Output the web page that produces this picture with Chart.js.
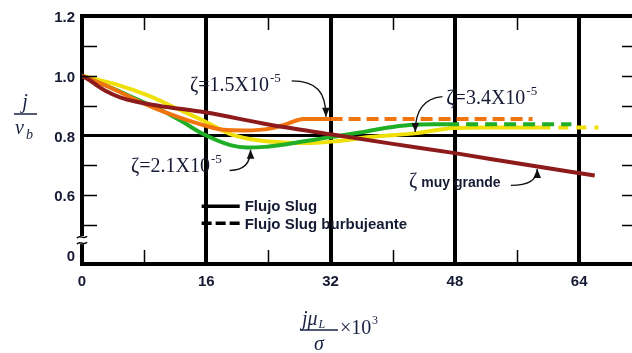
<!DOCTYPE html>
<html><head><meta charset="utf-8">
<script src="https://cdn.jsdelivr.net/npm/chart.js@4.4.1/dist/chart.umd.min.js"></script>
<style>html,body{margin:0;padding:0;background:#fff;overflow:hidden}#wrap{width:632px;height:353px}</style>
</head><body><div id="wrap"><canvas id="c" width="632" height="353"></canvas></div>
<script>
// ---- data ----
const xTickValues = [0,8,16,24,32,40,48,56,64];
const xTickLabels = ['0','','16','','32','','48','','64'];
const yTickValues = [0.4,0.5,0.6,0.7,0.8,0.9,1.0,1.1,1.2];
const yTickLabels = ['0','','0.6','','0.8','','1.0','','1.2'];
const xMinor = [8,24,40,56];
const yMinor = [0.5,0.6,0.7,0.9,1.0,1.1];

const muyGrandeX = [0,1,2,3,4.9,7,10,16,24,32,40,48,56,66];
const muyGrandeY = [1.0,0.985,0.966,0.95,0.928,0.913,0.899,0.877,0.837,0.804,0.772,0.741,0.707,0.666];

const z15SolidX = [0,3,5,7,9.5,12.6,15.6,18.2,21,24.2,26.5,28.5,32];
const z15SolidY = [1.0,0.968,0.944,0.918,0.89,0.86,0.835,0.819,0.817,0.823,0.84,0.855,0.855];
const z15DashX = [32,58];
const z15DashY = [0.855,0.855];

const z21SolidX = [0,4,7,10.4,13,15.6,19.1,21.2,23.5,25.5,28,31.5,35.8,39,42.2,47];
const z21SolidY = [1.0,0.957,0.922,0.882,0.845,0.805,0.768,0.76,0.762,0.768,0.778,0.793,0.81,0.825,0.835,0.838];
const z21DashX = [47,63];
const z21DashY = [0.838,0.838];

const z34SolidX = [0,4.9,8.4,12,15.6,19.1,22.9,26,29.4,33,37,43.1,47.8,52,59];
const z34SolidY = [1.0,0.967,0.935,0.893,0.85,0.805,0.783,0.777,0.775,0.782,0.795,0.808,0.825,0.827,0.827];
const z34DashX = [59,66.5];
const z34DashY = [0.827,0.827];

// ---- build ----
const pts = (xs, ys) => xs.map((x, i) => ({x: x, y: ys[i]}));
const BROWN = '#8E1B1B', ORANGE = '#F2740F', GREEN = '#21AE27', YELLOW = '#F0E00A';
function ds(label, xs, ys, color, dash) {
  return {label: label, data: pts(xs, ys), borderColor: color, backgroundColor: color, borderWidth: 4,
    pointRadius: 0, borderDash: dash || [], cubicInterpolationMode: 'monotone', fill: false, borderCapStyle: 'butt'};
}
const datasets = [
  ds('ζ muy grande', muyGrandeX, muyGrandeY, BROWN),
  ds('ζ=1.5X10-5', z15SolidX, z15SolidY, ORANGE),
  ds('ζ=1.5X10-5 burbujeante', z15DashX, z15DashY, ORANGE, [12,6]),
  ds('ζ=2.1X10-5', z21SolidX, z21SolidY, GREEN),
  ds('ζ=2.1X10-5 burbujeante', z21DashX, z21DashY, GREEN, [12,7]),
  ds('ζ=3.4X10-5', z34SolidX, z34SolidY, YELLOW),
  ds('ζ=3.4X10-5 burbujeante', z34DashX, z34DashY, YELLOW, [10,8])
];

const notes = [
  {main: 'ζ=1.5X10', sup: '-5', x: 13.9, y: 0.95, arrow: [[27.0,0.983],[30.2,0.983],[31.4,0.945],[31.4,0.863]]},
  {main: 'ζ=3.4X10', sup: '-5', x: 46.9, y: 0.907, arrow: [[46.4,0.93],[44.2,0.925],[42.9,0.89],[42.9,0.812]]},
  {main: 'ζ=2.1X10', sup: '-5', x: 6.3, y: 0.677, arrow: [[19.0,0.683],[21.0,0.683],[21.7,0.71],[21.7,0.752]]},
  {main: 'ζ', word: ' muy grande', x: 42.1, y: 0.627, arrow: [[55.2,0.633],[57.6,0.633],[58.6,0.655],[58.6,0.688]]}
];
const legendItems = [
  {text: 'Flujo Slug', dash: [], x0: 15.4, x1: 20.3, y: 0.563},
  {text: 'Flujo Slug burbujeante', dash: [10,4], x0: 15.4, x1: 20.3, y: 0.506}
];

const TXT = '#161a33';
const deco = {
  id: 'deco',
  afterDraw(chart) {
    const ctx = chart.ctx, a = chart.chartArea;
    const xs = chart.scales.x, ys = chart.scales.y;
    const X = v => xs.getPixelForValue(v), Y = v => ys.getPixelForValue(v);
    ctx.save();
    ctx.strokeStyle = '#000';
    ctx.lineWidth = 4;
    ctx.beginPath(); ctx.moveTo(a.left - 2, a.top); ctx.lineTo(a.right, a.top); ctx.stroke();
    ctx.lineWidth = 1.5;
    xMinor.forEach(v => {
      const p = Math.round(X(v)) + 0.5;
      ctx.beginPath(); ctx.moveTo(p, a.bottom); ctx.lineTo(p, a.bottom - 14);
      ctx.moveTo(p, a.top); ctx.lineTo(p, a.top + 14); ctx.stroke();
    });
    yMinor.forEach(v => {
      const p = Math.round(Y(v)) + 0.5;
      ctx.beginPath(); ctx.moveTo(a.left, p); ctx.lineTo(a.left + 15, p);
      ctx.moveTo(a.right - 10, p); ctx.lineTo(a.right, p); ctx.stroke();
    });
    const by = Y(0.45);
    ctx.fillStyle = '#fff';
    ctx.fillRect(a.left - 4, by - 4, 8, 8);
    ctx.lineWidth = 1.5;
    [by - 3, by + 3].forEach(yy => {
      ctx.beginPath(); ctx.moveTo(a.left - 5, yy + 1);
      ctx.bezierCurveTo(a.left - 2, yy - 3, a.left + 2, yy + 3, a.left + 5, yy - 1); ctx.stroke();
    });
    legendItems.forEach(it => {
      ctx.setLineDash(it.dash); ctx.lineWidth = 3.5; ctx.strokeStyle = '#000';
      ctx.beginPath(); ctx.moveTo(X(it.x0), Y(it.y)); ctx.lineTo(X(it.x1), Y(it.y)); ctx.stroke();
      ctx.setLineDash([]);
      ctx.fillStyle = TXT; ctx.font = 'bold 15px "Liberation Sans", Arial, sans-serif';
      ctx.textBaseline = 'middle'; ctx.textAlign = 'left';
      ctx.fillText(it.text, X(it.x1) + 5, Y(it.y) + 1);
    });
    ctx.textBaseline = 'alphabetic';
    notes.forEach(n => {
      const tx = X(n.x), ty = Y(n.y);
      ctx.fillStyle = TXT; ctx.font = '20px "Liberation Serif", "Times New Roman", serif';
      ctx.fillText(n.main, tx, ty);
      const w = ctx.measureText(n.main).width;
      if (n.sup) {
        ctx.font = '13px "Liberation Serif", serif';
        ctx.fillText(n.sup, tx + w + 1, ty - 9);
      }
      if (n.word) {
        ctx.font = 'bold 14px "Liberation Sans", Arial, sans-serif';
        ctx.fillText(n.word, tx + w, ty);
      }
      const p = n.arrow.map(q => [X(q[0]), Y(q[1])]);
      ctx.strokeStyle = '#111'; ctx.lineWidth = 1.4;
      ctx.beginPath(); ctx.moveTo(p[0][0], p[0][1]);
      ctx.bezierCurveTo(p[1][0], p[1][1], p[2][0], p[2][1], p[3][0], p[3][1]);
      ctx.stroke();
      const dx = p[3][0] - p[2][0], dy = p[3][1] - p[2][1], L = Math.hypot(dx, dy) || 1;
      const ux = dx / L, uy = dy / L, hl = 9, hw = 3.8;
      ctx.fillStyle = '#111';
      ctx.beginPath(); ctx.moveTo(p[3][0], p[3][1]);
      ctx.lineTo(p[3][0] - ux * hl - uy * hw, p[3][1] - uy * hl + ux * hw);
      ctx.lineTo(p[3][0] - ux * hl + uy * hw, p[3][1] - uy * hl - ux * hw);
      ctx.closePath(); ctx.fill();
    });
    ctx.fillStyle = '#1a2244'; ctx.strokeStyle = '#1a2244';
    ctx.font = 'italic 20px "Liberation Serif", serif';
    ctx.textAlign = 'center';
    ctx.fillText('j', 25, 108);
    ctx.lineWidth = 1.5;
    ctx.beginPath(); ctx.moveTo(14, 114); ctx.lineTo(37, 114); ctx.stroke();
    ctx.textAlign = 'left';
    ctx.fillText('ν', 15, 134);
    ctx.font = 'italic 14px "Liberation Serif", serif';
    ctx.fillText('b', 26, 139);
    ctx.font = 'italic 20px "Liberation Serif", serif';
    ctx.fillText('jμ', 302, 325);
    const jw = ctx.measureText('jμ').width;
    ctx.font = 'italic 12px "Liberation Serif", serif';
    ctx.fillText('L', 302 + jw + 1, 328);
    ctx.beginPath(); ctx.moveTo(300, 330); ctx.lineTo(338, 330); ctx.stroke();
    ctx.font = 'italic 20px "Liberation Serif", serif';
    ctx.textAlign = 'center';
    ctx.fillText('σ', 319, 350);
    ctx.textAlign = 'left';
    ctx.font = '20px "Liberation Serif", serif';
    ctx.fillText('×10', 340, 334);
    ctx.font = '12px "Liberation Serif", serif';
    ctx.fillText('3', 372, 324);
    ctx.restore();
  }
};

const tickFont = {family: '"Liberation Sans", Arial, sans-serif', size: 15, weight: 'bold'};
const findIdx = (arr, v) => arr.findIndex(t => Math.abs(t - v) < 1e-6);

new Chart(document.getElementById('c'), {
  type: 'line',
  data: {datasets: datasets},
  options: {
    responsive: false, animation: false, events: [],
    layout: {padding: {top: 15, left: 0, right: 0, bottom: 0}},
    plugins: {legend: {display: false}, tooltip: {enabled: false}},
    scales: {
      x: {
        type: 'linear', min: 0, max: 70.8,
        afterBuildTicks: s => { s.ticks = xTickValues.map(v => ({value: v})); },
        afterFit: s => { s.height = 89; },
        ticks: {callback: v => { const i = findIdx(xTickValues, v); return i < 0 ? '' : xTickLabels[i]; },
          font: tickFont, color: TXT, padding: 9, maxRotation: 0, autoSkip: false},
        grid: {drawTicks: false, lineWidth: 4,
          color: c => (c.tick && c.tick.value > 0 && c.tick.value % 16 === 0) ? '#000' : 'rgba(0,0,0,0)'},
        border: {display: true, color: '#000', width: 4}
      },
      y: {
        type: 'linear', min: 0.37, max: 1.2,
        afterBuildTicks: s => { s.ticks = yTickValues.map(v => ({value: v})); },
        afterFit: s => { s.width = 82; },
        ticks: {callback: v => { const i = findIdx(yTickValues, v); return i < 0 ? '' : yTickLabels[i]; },
          font: tickFont, color: TXT, padding: 7, labelOffset: 2, autoSkip: false},
        grid: {drawTicks: false, lineWidth: 3,
          color: c => (c.tick && Math.abs(c.tick.value - 0.8) < 1e-6) ? '#000' : 'rgba(0,0,0,0)'},
        border: {display: true, color: '#000', width: 4}
      }
    }
  },
  plugins: [deco]
});
</script>
</body></html>
